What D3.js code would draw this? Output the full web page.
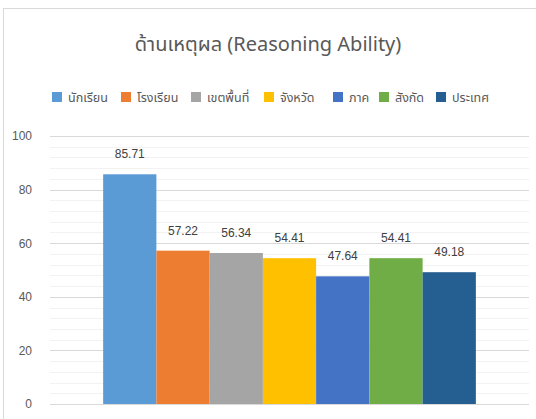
<!DOCTYPE html>
<html>
<head>
<meta charset="utf-8">
<script src="https://cdn.jsdelivr.net/npm/d3@7"></script>
<style>
  body { margin: 0; background: #fff; }
  svg { display: block; font-family: Tahoma, "Noto Sans Thai", "Noto Sans", sans-serif; }
</style>
</head>
<body>
<div id="chart-container"></div>
<script>
const seriesNames = ['นักเรียน', 'โรงเรียน', 'เขตพื้นที่', 'จังหวัด', 'ภาค', 'สังกัด', 'ประเทศ'];
const seriesValues = [85.71, 57.22, 56.34, 54.41, 47.64, 54.41, 49.18];
const seriesColors = ['#5b9bd5', '#ed7d31', '#a5a5a5', '#ffc000', '#4472c4', '#70ad47', '#255e91'];
const yTicks = [0, 20, 40, 60, 80, 100];

const W = 536, H = 419;
const plot = { left: 50, right: 529, top: 136, bottom: 404 };
const NUM_FONT = '"Liberation Sans", Arial, sans-serif';

const svg = d3.select('#chart-container').append('svg')
    .attr('width', W)
    .attr('height', H);

// Chart frame (cut off at right / bottom like the picture)
svg.append('rect')
    .attr('x', 3.5).attr('y', 8.5)
    .attr('width', W + 10).attr('height', H + 10)
    .attr('fill', '#fff')
    .attr('stroke', '#d9d9d9');

svg.append('text')
    .attr('x', 268).attr('y', 51)
    .attr('text-anchor', 'middle')
    .attr('font-size', 20)
    .attr('fill', '#595959')
    .text('ด้านเหตุผล (Reasoning Ability)');

// Scales
const yScale = d3.scaleLinear()
    .domain([0, 100])
    .range([plot.bottom, plot.top]);

const groupScale = d3.scaleBand()
    .domain(['all'])
    .range([plot.left, plot.right])
    .paddingInner(0)
    .paddingOuter(0.1426);

const xScale = d3.scaleBand()
    .domain(seriesNames)
    .range([groupScale('all'), groupScale('all') + groupScale.bandwidth()])
    .padding(0);

// Minor gridlines
svg.append('g')
    .selectAll('line')
    .data(d3.range(0, 101, 4).filter(v => v % 20 !== 0))
    .enter()
    .append('line')
        .attr('x1', plot.left).attr('x2', plot.right)
        .attr('y1', d => Math.round(yScale(d)) + 0.5)
        .attr('y2', d => Math.round(yScale(d)) + 0.5)
        .attr('stroke', '#f2f2f2');

// Major gridlines
svg.append('g')
    .selectAll('line')
    .data(yTicks)
    .enter()
    .append('line')
        .attr('x1', plot.left).attr('x2', plot.right)
        .attr('y1', d => Math.round(yScale(d)) + 0.5)
        .attr('y2', d => Math.round(yScale(d)) + 0.5)
        .attr('stroke', '#d9d9d9');

// Y axis labels
const yAxis = d3.axisLeft(yScale)
    .tickValues(yTicks)
    .tickSize(0)
    .tickPadding(0);
const yAxisG = svg.append('g')
    .attr('transform', `translate(${32}, 0)`)
    .call(yAxis);
yAxisG.select('.domain').remove();
yAxisG.selectAll('text')
    .attr('font-size', 12)
    .attr('font-family', NUM_FONT)
    .attr('fill', '#595959');

// Bars
svg.append('g')
    .selectAll('rect')
    .data(seriesNames)
    .enter()
    .append('rect')
        .attr('x', d => xScale(d))
        .attr('width', xScale.bandwidth())
        .attr('y', (d, i) => yScale(seriesValues[i]))
        .attr('height', (d, i) => yScale(0) - yScale(seriesValues[i]))
        .attr('fill', (d, i) => seriesColors[i]);

// Data labels
svg.append('g')
    .selectAll('text')
    .data(seriesNames)
    .enter()
    .append('text')
        .attr('x', d => xScale(d) + xScale.bandwidth() / 2)
        .attr('y', (d, i) => yScale(seriesValues[i]) - 16)
        .attr('text-anchor', 'middle')
        .attr('font-size', 12)
        .attr('font-family', NUM_FONT)
        .attr('fill', '#404040')
        .text((d, i) => seriesValues[i].toFixed(2));

// Legend
const legendX = [52, 121, 191, 264, 333, 379, 436];
const legend = svg.append('g')
    .selectAll('g')
    .data(seriesNames)
    .enter()
    .append('g')
        .attr('transform', (d, i) => `translate(${legendX[i]}, 92)`);
legend.append('rect')
    .attr('width', 10).attr('height', 10)
    .attr('fill', (d, i) => seriesColors[i]);
legend.append('text')
    .attr('x', 16).attr('y', 10)
    .attr('font-size', 12.5)
    .attr('fill', '#595959')
    .text(d => d);
</script>
</body>
</html>
